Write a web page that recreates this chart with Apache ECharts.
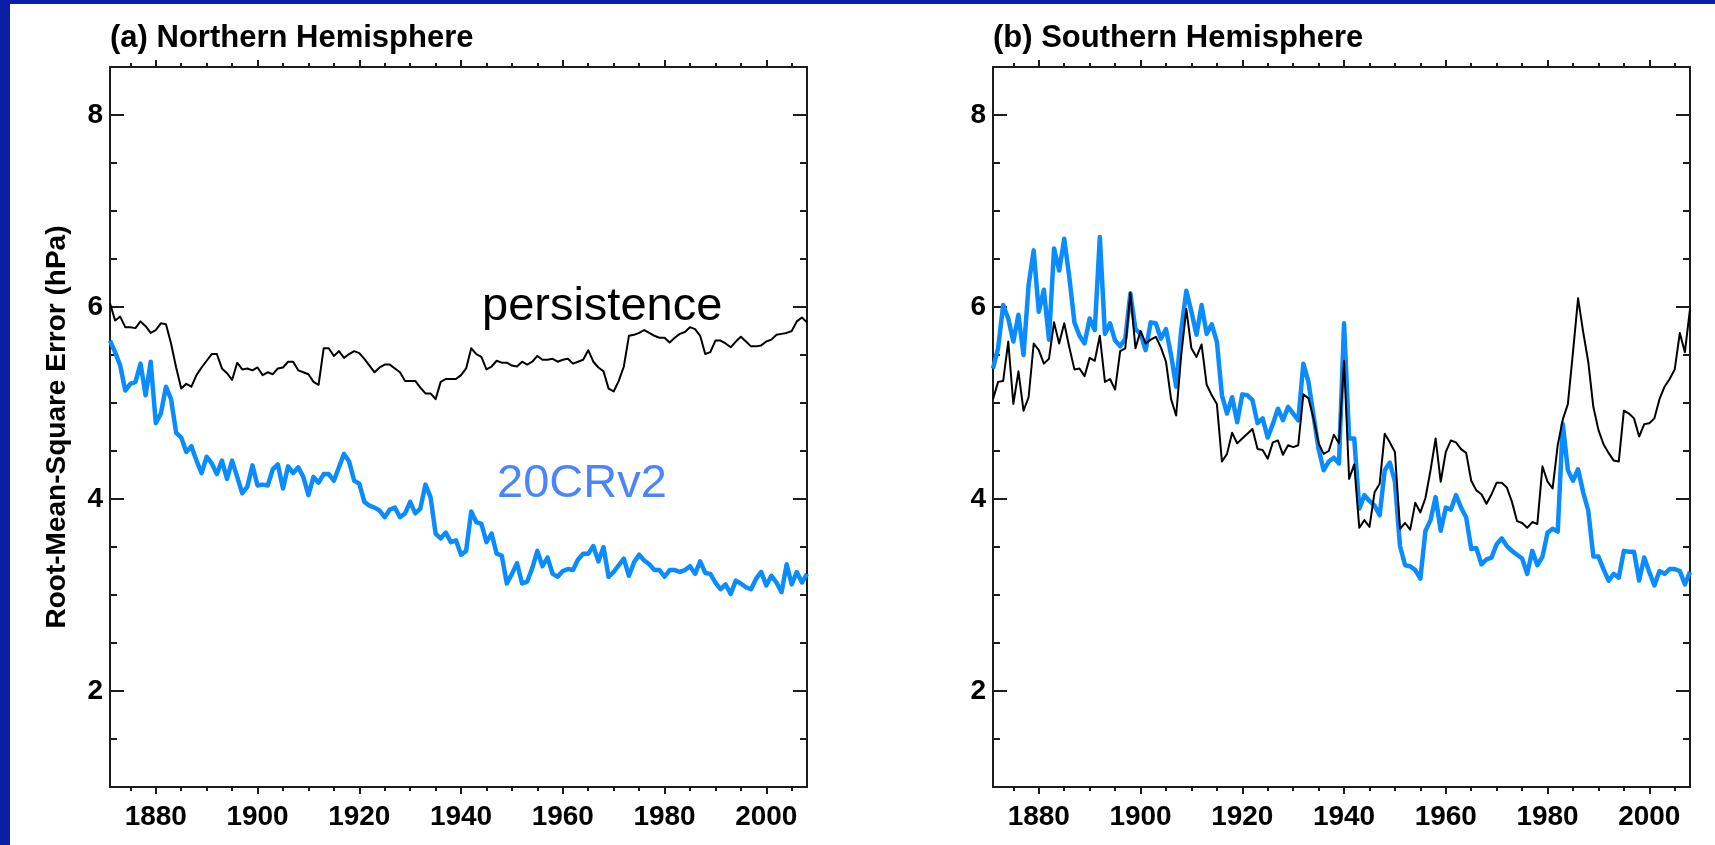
<!DOCTYPE html>
<html>
<head>
<meta charset="utf-8">
<script src="https://cdn.jsdelivr.net/npm/echarts@6/dist/echarts.min.js"></script>
<style>
  html, body { margin: 0; padding: 0; background: #ffffff; }
  #chart { width: 1715px; height: 845px; }
</style>
</head>
<body>
<div id="chart"></div>
<script>
// Annual RMS error of sea-level pressure, 1871-2008
const firstYear = 1871;
const lastYear = 2008;
const yearTicks = [1880, 1900, 1920, 1940, 1960, 1980, 2000];
const rmsTicks = [2, 4, 6, 8];
const panelTitles = ['(a) Northern Hemisphere', '(b) Southern Hemisphere'];
const yTitle = 'Root-Mean-Square Error (hPa)';
const seriesNames = ['20CRv2', 'persistence'];

// Northern Hemisphere, 20CRv2 (one value per year, 1871..2008)
const nhReanalysis = [
  5.65, 5.53, 5.39, 5.13, 5.20, 5.22, 5.41, 5.08, 5.43, 4.79,
  4.89, 5.17, 5.04, 4.69, 4.64, 4.49, 4.55, 4.40, 4.27, 4.44,
  4.37, 4.26, 4.40, 4.21, 4.40, 4.23, 4.06, 4.13, 4.35, 4.14,
  4.15, 4.14, 4.31, 4.36, 4.11, 4.34, 4.27, 4.33, 4.23, 4.04,
  4.23, 4.17, 4.26, 4.26, 4.19, 4.33, 4.47, 4.39, 4.19, 4.16,
  3.97, 3.93, 3.91, 3.88, 3.81, 3.89, 3.91, 3.81, 3.85, 3.97,
  3.85, 3.90, 4.15, 4.02, 3.64, 3.59, 3.65, 3.55, 3.57, 3.42,
  3.46, 3.87, 3.76, 3.74, 3.55, 3.64, 3.43, 3.41, 3.12, 3.22,
  3.33, 3.12, 3.14, 3.28, 3.46, 3.30, 3.39, 3.22, 3.19, 3.25,
  3.27, 3.26, 3.37, 3.43, 3.43, 3.51, 3.35, 3.50, 3.19, 3.24,
  3.31, 3.38, 3.20, 3.34, 3.42, 3.36, 3.32, 3.26, 3.26, 3.19,
  3.26, 3.26, 3.24, 3.26, 3.30, 3.22, 3.35, 3.23, 3.22, 3.13,
  3.06, 3.11, 3.01, 3.15, 3.12, 3.08, 3.06, 3.17, 3.24, 3.10,
  3.20, 3.13, 3.03, 3.32, 3.11, 3.24, 3.13, 3.22
];

// Northern Hemisphere, persistence
const nhPersistence = [
  6.04, 5.86, 5.90, 5.79, 5.79, 5.78, 5.85, 5.80, 5.73, 5.76,
  5.83, 5.82, 5.62, 5.37, 5.15, 5.20, 5.17, 5.29, 5.37, 5.44,
  5.51, 5.51, 5.36, 5.31, 5.24, 5.42, 5.35, 5.36, 5.34, 5.37,
  5.29, 5.32, 5.30, 5.36, 5.37, 5.43, 5.43, 5.34, 5.32, 5.30,
  5.22, 5.19, 5.57, 5.57, 5.49, 5.54, 5.47, 5.51, 5.54, 5.52,
  5.46, 5.39, 5.32, 5.37, 5.40, 5.40, 5.36, 5.32, 5.23, 5.23,
  5.23, 5.16, 5.10, 5.10, 5.04, 5.22, 5.25, 5.25, 5.25, 5.29,
  5.36, 5.57, 5.51, 5.48, 5.35, 5.38, 5.44, 5.42, 5.42, 5.39,
  5.38, 5.43, 5.40, 5.43, 5.49, 5.45, 5.45, 5.46, 5.43, 5.45,
  5.46, 5.41, 5.43, 5.45, 5.55, 5.43, 5.37, 5.33, 5.15, 5.12,
  5.23, 5.38, 5.70, 5.71, 5.73, 5.76, 5.73, 5.70, 5.68, 5.68,
  5.63, 5.68, 5.72, 5.74, 5.79, 5.77, 5.70, 5.51, 5.53, 5.65,
  5.65, 5.62, 5.58, 5.64, 5.69, 5.64, 5.59, 5.59, 5.60, 5.64,
  5.66, 5.71, 5.72, 5.73, 5.75, 5.85, 5.89, 5.84
];

// Southern Hemisphere, 20CRv2
const shReanalysis = [
  5.36, 5.57, 6.02, 5.88, 5.64, 5.92, 5.50, 6.23, 6.59, 5.95,
  6.18, 5.66, 6.61, 6.38, 6.71, 6.31, 5.84, 5.70, 5.62, 5.88,
  5.76, 6.73, 5.72, 5.83, 5.65, 5.59, 5.67, 6.14, 5.77, 5.72,
  5.55, 5.84, 5.83, 5.67, 5.77, 5.50, 5.17, 5.76, 6.17, 5.95,
  5.71, 6.02, 5.72, 5.82, 5.64, 5.08, 4.89, 5.06, 4.80, 5.09,
  5.08, 5.03, 4.79, 4.84, 4.64, 4.78, 4.94, 4.82, 4.96, 4.89,
  4.82, 5.41, 5.22, 4.87, 4.52, 4.30, 4.39, 4.43, 4.37, 5.83,
  4.63, 4.63, 3.90, 4.04, 3.98, 3.93, 3.83, 4.30, 4.38, 4.18,
  3.51, 3.31, 3.30, 3.26, 3.17, 3.67, 3.78, 4.02, 3.67, 3.91,
  3.89, 4.04, 3.91, 3.81, 3.48, 3.49, 3.32, 3.37, 3.39, 3.53,
  3.59, 3.51, 3.46, 3.42, 3.38, 3.22, 3.46, 3.31, 3.40, 3.65,
  3.69, 3.66, 4.78, 4.30, 4.19, 4.31, 4.07, 3.88, 3.40, 3.40,
  3.27, 3.15, 3.22, 3.18, 3.46, 3.45, 3.45, 3.15, 3.39, 3.24,
  3.10, 3.25, 3.22, 3.27, 3.27, 3.25, 3.11, 3.24
];

// Southern Hemisphere, persistence
const shPersistence = [
  5.04, 5.22, 5.23, 5.64, 4.99, 5.33, 4.92, 5.06, 5.62, 5.55,
  5.41, 5.46, 5.84, 5.62, 5.83, 5.58, 5.35, 5.36, 5.28, 5.47,
  5.44, 5.70, 5.22, 5.25, 5.14, 5.54, 5.57, 6.15, 5.57, 5.75,
  5.62, 5.66, 5.69, 5.58, 5.43, 5.04, 4.87, 5.50, 5.98, 5.57,
  5.48, 5.61, 5.19, 5.08, 4.99, 4.39, 4.47, 4.69, 4.58, 4.63,
  4.68, 4.73, 4.52, 4.51, 4.42, 4.59, 4.61, 4.46, 4.56, 4.54,
  4.56, 5.09, 5.05, 4.84, 4.58, 4.47, 4.50, 4.67, 4.58, 5.44,
  4.21, 4.36, 3.70, 3.78, 3.71, 4.07, 4.16, 4.68, 4.59, 4.49,
  3.69, 3.75, 3.68, 3.96, 3.86, 4.01, 4.30, 4.63, 4.18, 4.49,
  4.61, 4.59, 4.52, 4.48, 4.19, 4.09, 4.05, 3.95, 4.05, 4.17,
  4.17, 4.12, 3.97, 3.77, 3.75, 3.70, 3.76, 3.74, 4.34, 4.18,
  4.11, 4.56, 4.83, 4.99, 5.53, 6.09, 5.74, 5.43, 4.96, 4.72,
  4.57, 4.48, 4.40, 4.39, 4.92, 4.89, 4.84, 4.65, 4.78, 4.79,
  4.84, 5.04, 5.17, 5.25, 5.35, 5.73, 5.53, 5.98
];

const years = [];
for (let y = firstYear; y <= lastYear; y++) years.push(y);

// Five-year minor ticks on the time axis, half-unit minor ticks on the error axis
const minorYears = [];
for (let y = 1875; y <= 2005; y += 5) if (y % 20 !== 0) minorYears.push(y);
const minorRms = [];
for (let k = 3; k <= 16; k++) if (k % 4 !== 0) minorRms.push(k / 2);

const FONT = '"Liberation Sans", Arial, Helvetica, sans-serif';
const AXIS_COLOR = '#1c1c1c';
const BLUE_LINE = '#0a8cff';
const BLUE_TEXT = '#4a86fa';
const FRAME_BLUE = '#0b1fa6';

const panels = [
  { left: 110, reanalysis: nhReanalysis, persistence: nhPersistence },
  { left: 993, reanalysis: shReanalysis, persistence: shPersistence }
];
const GRID_TOP = 67, GRID_W = 697, GRID_H = 720;

const pairs = (vals) => years.map((y, i) => [y, vals[i]]);
const plain = (v) => String(v);
const tickLine = { color: AXIS_COLOR, width: 2 };

const grids = [], xAxes = [], yAxes = [], series = [];

panels.forEach((p, g) => {
  grids.push({ left: p.left, top: GRID_TOP, width: GRID_W, height: GRID_H,
               containLabel: false, outerBoundsMode: 'none' });

  const xBase = { gridIndex: g, type: 'value', min: firstYear, max: lastYear,
                  splitLine: { show: false }, axisLabel: { show: false },
                  axisLine: { show: false, onZero: false } };
  xAxes.push(
    Object.assign({}, xBase, {
      position: 'bottom',
      axisLine: { show: true, onZero: false, lineStyle: tickLine },
      axisTick: { show: true, customValues: yearTicks, length: 7, lineStyle: tickLine },
      axisLabel: { show: true, customValues: yearTicks, formatter: plain, margin: 16,
                   color: '#000', fontSize: 28, fontWeight: 'bold', fontFamily: FONT }
    }),
    Object.assign({}, xBase, {
      position: 'bottom',
      axisTick: { show: true, customValues: minorYears, length: 4, lineStyle: tickLine }
    }),
    Object.assign({}, xBase, {
      position: 'top',
      axisLine: { show: true, onZero: false, lineStyle: tickLine },
      axisTick: { show: true, customValues: yearTicks, length: 7, lineStyle: tickLine }
    }),
    Object.assign({}, xBase, {
      position: 'top',
      axisTick: { show: true, customValues: minorYears, length: 4, lineStyle: tickLine }
    })
  );

  const yBase = { gridIndex: g, type: 'value', min: 1, max: 8.5,
                  splitLine: { show: false }, axisLabel: { show: false },
                  axisLine: { show: false, onZero: false } };
  yAxes.push(
    Object.assign({}, yBase, {
      position: 'left',
      axisLine: { show: true, onZero: false, lineStyle: tickLine },
      axisTick: { show: true, inside: true, customValues: rmsTicks, length: 14, lineStyle: tickLine },
      axisLabel: { show: true, customValues: rmsTicks, formatter: plain, margin: 7,
                   color: '#000', fontSize: 28, fontWeight: 'bold', fontFamily: FONT }
    }),
    Object.assign({}, yBase, {
      position: 'left',
      axisTick: { show: true, inside: true, customValues: minorRms, length: 7, lineStyle: tickLine }
    }),
    Object.assign({}, yBase, {
      position: 'right',
      axisLine: { show: true, onZero: false, lineStyle: tickLine },
      axisTick: { show: true, inside: true, customValues: rmsTicks, length: 14, lineStyle: tickLine }
    }),
    Object.assign({}, yBase, {
      position: 'right',
      axisTick: { show: true, inside: true, customValues: minorRms, length: 7, lineStyle: tickLine }
    })
  );

  series.push(
    { name: seriesNames[0], type: 'line', xAxisIndex: g * 4, yAxisIndex: g * 4,
      data: pairs(p.reanalysis), showSymbol: false, symbol: 'none',
      lineStyle: { color: BLUE_LINE, width: 4.5, join: 'round' }, z: 2 },
    { name: seriesNames[1], type: 'line', xAxisIndex: g * 4, yAxisIndex: g * 4,
      data: pairs(p.persistence), showSymbol: false, symbol: 'none',
      lineStyle: { color: '#000', width: 2, join: 'round' }, z: 3 }
  );
});

const graphic = [
  { type: 'rect', shape: { x: 0, y: 0, width: 10, height: 845 }, style: { fill: FRAME_BLUE }, silent: true },
  { type: 'rect', shape: { x: 0, y: 0, width: 1715, height: 4 }, style: { fill: FRAME_BLUE }, silent: true },
  { type: 'text', x: 110, y: 38, silent: true,
    style: { text: panelTitles[0], fontSize: 31, fontWeight: 'bold', fontFamily: FONT,
             fill: '#000', align: 'left', verticalAlign: 'middle' } },
  { type: 'text', x: 993, y: 38, silent: true,
    style: { text: panelTitles[1], fontSize: 31, fontWeight: 'bold', fontFamily: FONT,
             fill: '#000', align: 'left', verticalAlign: 'middle' } },
  { type: 'text', x: 57, y: 427, rotation: Math.PI / 2, silent: true,
    style: { text: yTitle, fontSize: 28, fontWeight: 'bold', fontFamily: FONT,
             fill: '#000', align: 'center', verticalAlign: 'middle' } },
  { type: 'text', x: 482, y: 307, silent: true,
    style: { text: seriesNames[1], fontSize: 47, fontFamily: FONT,
             fill: '#000', align: 'left', verticalAlign: 'middle' } },
  { type: 'text', x: 497, y: 484.5, silent: true,
    style: { text: seriesNames[0], fontSize: 47, fontFamily: FONT,
             fill: BLUE_TEXT, align: 'left', verticalAlign: 'middle' } }
];

const chart = echarts.init(document.getElementById('chart'), null, { renderer: 'canvas' });
chart.setOption({
  animation: false,
  backgroundColor: '#ffffff',
  grid: grids,
  xAxis: xAxes,
  yAxis: yAxes,
  series: series,
  graphic: graphic
});
</script>
</body>
</html>
